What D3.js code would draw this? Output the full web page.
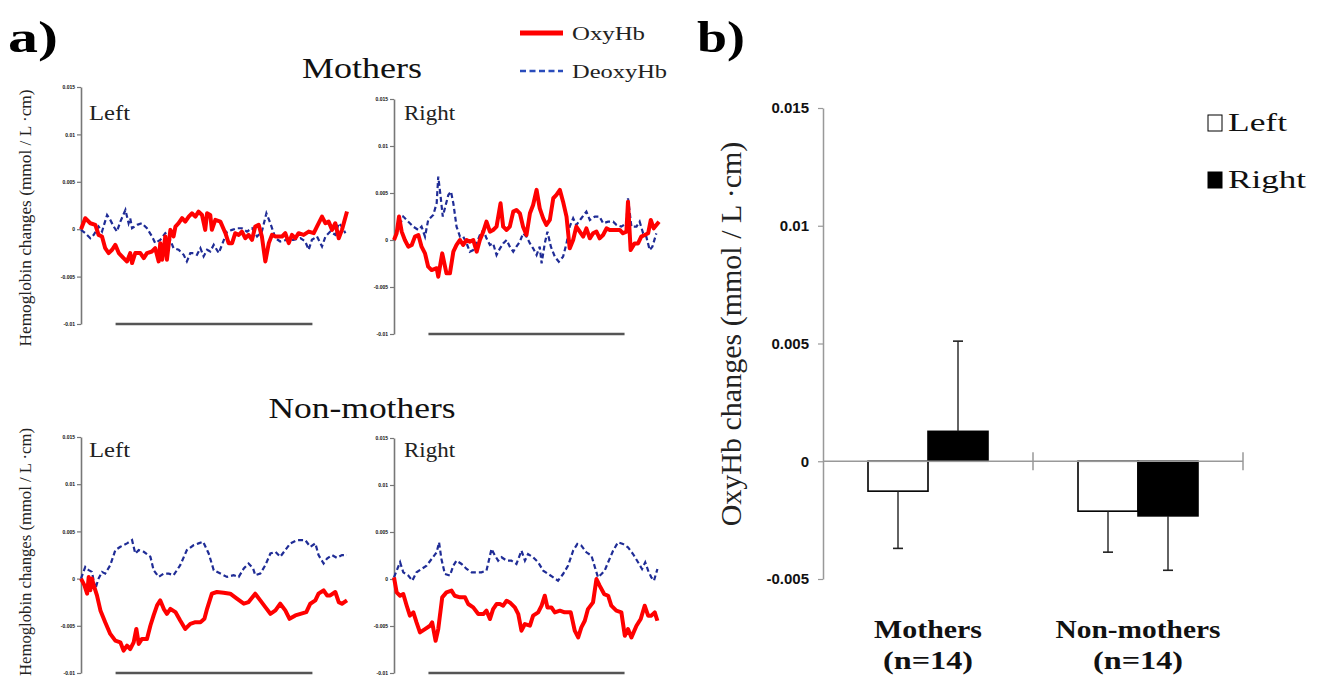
<!DOCTYPE html>
<html><head><meta charset="utf-8">
<script src="https://cdnjs.cloudflare.com/ajax/libs/d3/7.8.5/d3.min.js"></script>
<style>
html,body{margin:0;padding:0;background:#fff;}
svg{display:block;}
</style></head>
<body>
<script>
// ---------------- DATA ----------------
// Panel a: time (% of trace) and hemoglobin change in 0.001 mmol / L·cm
const oxyMothersLeft = [[0,0],[1.6,1.16],[3.5,0.63],[5.4,0.46],[6.6,-0.6],[7.9,-0.77],[9.1,-2.0],[10.4,-2.52],[11.7,-2.17],[12.9,-1.65],[14.2,-2.52],[16.0,-3.05],[17.3,-3.4],[18.5,-2.52],[19.2,-3.57],[20.4,-2.52],[22.3,-2.52],[23.6,-3.05],[24.8,-2.52],[26.7,-2.35],[27.9,-2.0],[29.2,-3.4],[29.8,-1.47],[30.5,-3.22],[31.7,-0.77],[32.3,-3.22],[33.6,-0.07],[34.8,-0.77],[35.5,0.28],[36.7,0.63],[38.0,1.16],[39.2,0.8],[40.5,1.33],[41.7,1.68],[43.0,1.33],[44.2,1.86],[45.5,1.5],[46.7,-0.07],[47.4,1.68],[48.6,1.5],[49.2,-0.07],[50.5,0.98],[52.4,0.8],[54.3,-0.42],[55.5,-1.47],[56.8,-1.47],[58.0,-0.42],[59.3,-0.6],[60.5,-0.25],[61.8,-0.95],[63.0,-0.6],[64.3,-1.12],[65.5,0.28],[66.8,0.46],[68.0,-0.77],[69.3,-3.4],[70.6,-1.47],[71.8,-0.6],[73.1,-0.77],[74.3,-0.77],[75.6,-0.77],[76.8,-0.42],[78.1,-1.47],[79.3,-0.6],[80.6,-0.95],[81.8,-0.42],[83.7,-0.6],[85.6,-0.25],[87.5,-0.42],[88.7,0.28],[90.6,1.33],[91.9,0.63],[93.1,0.8],[94.4,-0.07],[95.6,0.63],[96.9,-0.95],[98.1,-0.07],[100,1.86]];
const deoxyMothersLeft = [[0,-0.07],[1.6,-0.42],[3.5,-0.95],[4.8,-0.6],[6.6,0.28],[7.9,-0.25],[9.8,1.5],[11.0,0.98],[12.3,0.28],[13.5,-0.25],[14.8,0.8],[16.7,2.03],[17.9,0.63],[18.5,1.16],[19.2,0.1],[21.1,0.46],[22.9,0.63],[24.8,0.1],[26.7,-0.77],[27.9,-1.47],[29.8,-1.12],[31.7,-0.42],[33.0,-0.77],[34.8,-2.0],[36.7,-2.17],[38.6,-2.7],[39.8,-3.4],[41.1,-2.52],[42.4,-2.52],[43.6,-2.7],[44.9,-2.0],[46.1,-2.87],[47.4,-2.17],[48.6,-2.35],[49.9,-1.65],[51.8,-2.52],[53.0,-1.65],[54.9,-0.25],[56.8,-0.07],[58.6,0.1],[60.5,0.1],[62.4,-0.25],[64.3,0.1],[66.2,-0.77],[68.0,-0.25],[69.7,1.68],[71.2,0.63],[73.1,-0.95],[74.9,-1.3],[77.4,-1.12],[79.9,-1.12],[82.5,-0.95],[84.3,-1.3],[85.6,-2.17],[86.8,-1.12],[88.7,-0.77],[90.6,-1.82],[91.9,-0.77],[93.7,-0.25],[95.6,-0.6],[96.9,0.63],[98.1,0.28],[99.4,-0.42]];
const oxyMothersRight = [[0,0],[1.0,0.71],[1.9,2.49],[2.9,0.89],[4.1,0],[5.4,-0.71],[6.7,-0.53],[7.9,0.36],[9.2,0.53],[10.4,-0.71],[11.7,-1.42],[12.9,-2.84],[14.2,-3.2],[16.1,-3.0],[16.7,-3.9],[18.2,-1.42],[19.8,-3.55],[21.1,-3.55],[22.4,-1.24],[23.6,-0.53],[24.9,0],[26.1,-0.53],[27.4,0],[28.6,-0.18],[29.9,0],[31.2,-1.24],[32.4,0],[33.7,0.89],[34.9,1.95],[36.2,0.89],[37.4,1.07],[38.7,1.42],[40.2,3.9],[41.2,1.42],[42.5,1.07],[43.7,1.42],[45.0,3.02],[46.2,3.2],[47.5,2.84],[48.7,1.42],[50.0,0.53],[51.3,2.84],[52.5,3.73],[53.8,5.33],[55.0,3.37],[56.3,2.31],[57.5,1.6],[58.8,2.13],[60.1,4.44],[61.3,4.79],[62.6,5.33],[63.8,4.08],[65.1,2.49],[66.3,-0.89],[67.6,0],[68.8,1.42],[70.1,0.89],[71.4,0.36],[72.6,1.24],[73.9,0.18],[75.1,0.71],[76.4,0.89],[77.6,0.18],[78.9,0.53],[80.2,1.24],[81.4,1.07],[83.3,1.07],[85.2,1.07],[86.4,0.71],[87.7,0.89],[88.3,4.08],[89.3,-1.07],[90.8,-0.36],[92.1,-0.36],[93.3,0.36],[94.6,0.53],[95.9,0.71],[96.9,2.13],[98.0,1.24],[99.0,1.6],[100,1.95]];
const deoxyMothersRight = [[0,0],[1.6,1.24],[3.5,2.49],[5.4,1.95],[7.3,1.42],[9.2,1.07],[10.4,1.42],[11.7,0.36],[12.9,2.13],[14.8,2.66],[16.1,3.9],[16.7,6.75],[17.6,4.62],[18.4,2.49],[19.2,3.37],[20.5,4.79],[21.5,5.15],[22.4,3.9],[23.6,1.42],[24.9,0.36],[26.1,0.36],[27.4,-0.36],[28.6,-1.24],[29.9,-1.07],[31.2,-0.36],[32.4,0.53],[33.7,1.07],[34.9,0.18],[36.2,-0.53],[37.4,-0.36],[38.7,-1.6],[40.0,-0.89],[41.2,-0.36],[42.5,0],[43.7,-0.71],[45.0,-1.24],[46.2,-0.71],[47.5,-0.18],[48.7,0.71],[50.0,0.36],[51.3,-0.36],[52.5,-0.89],[53.8,-1.6],[55.0,-0.71],[55.7,-2.49],[56.9,-0.36],[57.9,0.89],[59.2,-0.71],[60.7,-1.78],[62.2,-2.31],[63.8,-1.78],[65.1,-0.36],[66.3,1.42],[67.6,2.31],[68.8,1.6],[70.7,2.31],[72.6,3.02],[73.9,2.13],[75.8,2.49],[77.6,2.49],[78.9,1.78],[80.8,1.95],[82.7,1.95],[84.0,1.6],[85.8,1.42],[87.7,1.78],[88.3,4.44],[89.6,1.42],[91.5,1.42],[92.7,1.95],[94.0,0.71],[95.2,0.36],[96.5,-1.07],[97.5,-0.71],[99.0,0.71]];
const oxyNonMothersLeft = [[0,0],[1.3,-0.71],[2.3,-1.6],[2.9,0.18],[3.5,-1.24],[4.1,0],[4.8,-0.71],[6.0,-1.78],[7.3,-3.37],[9.1,-4.62],[11.0,-5.86],[12.9,-6.57],[14.8,-6.75],[16.0,-7.63],[17.3,-7.1],[18.5,-7.46],[19.8,-6.75],[20.8,-5.33],[21.7,-6.92],[22.9,-6.39],[24.8,-6.39],[26.1,-4.97],[27.3,-3.9],[28.6,-2.84],[29.8,-2.31],[31.1,-3.2],[32.3,-3.73],[33.6,-3.2],[35.5,-3.55],[37.3,-4.44],[39.2,-5.33],[41.1,-4.79],[43.0,-4.62],[44.9,-4.62],[46.4,-4.26],[47.4,-3.2],[49.2,-1.6],[51.1,-1.42],[53.6,-1.49],[56.1,-1.6],[58.6,-2.13],[61.2,-2.66],[63.0,-2.49],[65.5,-1.6],[67.4,-2.31],[69.3,-3.02],[71.2,-3.73],[73.1,-3.37],[74.9,-2.66],[76.8,-3.37],[78.4,-4.26],[80.6,-3.9],[82.5,-3.73],[84.7,-3.55],[86.2,-2.66],[88.1,-2.31],[89.3,-1.6],[91.2,-1.24],[92.5,-1.78],[93.7,-1.78],[95.6,-1.42],[96.9,-2.49],[98.1,-2.66],[100,-2.31]];
const deoxyNonMothersLeft = [[0,0],[1.6,1.24],[2.9,0.89],[4.1,0.71],[5.4,-1.07],[6.6,0],[7.9,0.71],[9.1,0.53],[11.0,1.42],[12.9,3.02],[14.8,3.37],[17.3,3.73],[19.2,4.08],[20.4,2.66],[21.7,3.02],[23.6,2.84],[26.1,2.31],[27.3,0.89],[29.2,0.18],[31.1,0.53],[33.0,0.53],[34.8,0.36],[37.3,1.42],[39.8,3.02],[42.4,3.55],[44.2,3.73],[45.9,3.9],[48.0,2.66],[49.9,0.89],[52.4,0.53],[54.9,0.18],[57.4,0.36],[59.3,0.18],[61.2,1.07],[63.0,1.6],[64.7,1.07],[65.5,0.36],[67.4,0.53],[69.3,1.42],[71.2,2.66],[73.1,2.84],[74.9,2.31],[76.8,3.02],[78.7,3.73],[81.2,4.08],[84.3,4.08],[86.2,3.37],[88.1,3.73],[89.3,2.49],[91.2,1.6],[92.5,2.13],[94.4,2.49],[96.2,2.2],[98.1,2.49],[100,2.49]];
const oxyNonMothersRight = [[0,0.18],[1.0,-1.42],[2.3,-1.78],[3.5,-1.6],[4.8,-2.84],[6.0,-3.9],[7.3,-3.55],[8.5,-4.62],[9.8,-5.68],[11.7,-5.33],[13.6,-4.97],[14.4,-4.62],[15.7,-6.57],[16.7,-5.33],[18.2,-1.95],[19.8,-1.42],[21.7,-1.24],[22.9,-1.78],[24.9,-1.95],[26.8,-1.95],[28.0,-2.66],[29.9,-3.02],[31.8,-3.73],[33.7,-3.73],[34.9,-3.37],[36.2,-4.26],[37.4,-3.2],[38.7,-2.66],[40.0,-2.66],[41.2,-2.84],[42.5,-2.31],[43.7,-2.49],[45.6,-3.02],[46.9,-3.73],[48.1,-5.5],[49.4,-4.79],[51.3,-4.97],[52.5,-3.9],[54.4,-3.55],[55.7,-2.84],[56.9,-1.78],[57.9,-3.02],[59.4,-3.02],[60.7,-3.55],[62.6,-3.37],[64.4,-3.55],[66.7,-3.55],[68.2,-5.5],[69.5,-6.21],[70.7,-5.15],[72.0,-4.44],[73.2,-3.2],[75.1,-2.49],[76.4,0],[77.6,-0.71],[79.3,-1.6],[80.8,-1.78],[82.0,-2.84],[83.9,-3.37],[85.8,-3.55],[87.1,-6.04],[88.3,-5.33],[89.6,-6.21],[91.5,-4.97],[93.1,-4.26],[94.6,-2.84],[95.9,-3.9],[97.1,-3.9],[98.4,-3.55],[99.4,-4.44]];
const deoxyNonMothersRight = [[0,0.18],[1.0,0.89],[2.3,1.78],[3.5,0.71],[5.4,0.36],[6.9,-0.18],[8.5,0.71],[10.4,1.07],[12.3,1.42],[14.2,2.13],[16.1,2.84],[17.0,3.9],[17.9,2.13],[19.2,0.53],[21.1,0.36],[22.4,1.42],[23.6,1.95],[25.5,1.6],[27.4,1.07],[29.3,0.71],[31.2,0.71],[33.0,0.71],[34.9,0.89],[36.8,3.2],[38.1,2.49],[39.3,1.95],[40.6,2.31],[42.5,1.95],[44.3,1.95],[46.2,1.6],[48.1,3.02],[49.4,1.95],[50.6,2.66],[52.5,2.31],[54.4,1.78],[56.3,0.89],[58.2,0.53],[60.1,0.18],[61.9,-0.18],[63.8,0.53],[65.7,1.42],[67.6,3.02],[69.2,3.73],[70.7,3.55],[72.6,2.84],[74.5,2.49],[76.0,1.07],[77.0,0.18],[78.3,0.53],[79.5,0.89],[80.8,1.78],[82.7,3.02],[84.5,3.9],[86.4,3.73],[88.3,3.37],[90.2,2.66],[92.1,1.78],[93.6,1.07],[94.8,1.78],[95.9,0.89],[97.1,0.18],[98.1,-0.18],[99.4,1.07]];
const stimulusWindow = [13, 87];
const subTickValues = [15, 10, 5, 0, -5, -10];
const subTickLabels = ["0.015", "0.01", "0.005", "0", "-0.005", "-0.01"];
const seriesNames = ["OxyHb", "DeoxyHb"];
const groupTitles = ["Mothers", "Non-mothers"];
const sideNames = ["Left", "Right"];

// Panel b
const barGroups = ["Mothers", "Non-mothers"];
const groupSizes = ["(n=14)", "(n=14)"];
const meanLeft = [-0.00127, -0.00212];
const meanRight = [0.00127, -0.00232];
const sdLeft = [0.00243, 0.00174];
const sdRight = [0.00383, 0.00231];
const barTickValues = [0.015, 0.01, 0.005, 0, -0.005];
const barTickLabels = ["0.015", "0.01", "0.005", "0", "-0.005"];

// ---------------- DRAW ----------------
const W = 1322, H = 681;
const svg = d3.select("body").append("svg").attr("width", W).attr("height", H);
const serif = "'Liberation Serif','Times New Roman',serif";
const sans = "'Liberation Sans',Arial,sans-serif";

// panel letters
svg.append("text").attr("x", 8).attr("y", 52).text("a)")
  .attr("font-family", serif).attr("font-weight", "bold").attr("font-size", 44)
  .attr("textLength", 50).attr("lengthAdjust", "spacingAndGlyphs");
svg.append("text").attr("x", 697).attr("y", 52).text("b)")
  .attr("font-family", serif).attr("font-weight", "bold").attr("font-size", 44)
  .attr("textLength", 48).attr("lengthAdjust", "spacingAndGlyphs");

// legend a
const legA = svg.append("g");
const legItems = [
  {name: seriesNames[0], y: 33, color: "#ff0000", w: 5, dash: null, ty: 40, len: 73},
  {name: seriesNames[1], y: 71, color: "#2a4cbc", w: 2.5, dash: "6,3.5", ty: 78, len: 95}
];
legItems.forEach(it => {
  legA.append("line").attr("x1", 520).attr("x2", 563).attr("y1", it.y).attr("y2", it.y)
    .attr("stroke", it.color).attr("stroke-width", it.w).attr("stroke-dasharray", it.dash);
  legA.append("text").attr("x", 572).attr("y", it.ty).text(it.name)
    .attr("font-family", serif).attr("font-size", 18).attr("fill", "#222")
    .attr("textLength", it.len).attr("lengthAdjust", "spacingAndGlyphs");
});

// group titles
[[groupTitles[0], 78, 120], [groupTitles[1], 418, 187]].forEach(([t, y, len]) => {
  svg.append("text").attr("x", 362).attr("y", y).attr("text-anchor", "middle").text(t)
    .attr("font-family", serif).attr("font-size", 30).attr("fill", "#111")
    .attr("textLength", len).attr("lengthAdjust", "spacingAndGlyphs");
});

// y labels panel a
[[218, 257], [552, 248]].forEach(([cy, len]) => {
  svg.append("text").attr("transform", `translate(31,${cy}) rotate(-90)`)
    .attr("text-anchor", "middle").text("Hemoglobin changes (mmol / L ·cm)")
    .attr("font-family", serif).attr("font-size", 16).attr("fill", "#222")
    .attr("textLength", len).attr("lengthAdjust", "spacingAndGlyphs");
});

const panels = [
  {x0: 81, x1: 347, yTop: 87, yBot: 324, side: 0, labelY: 120, oxy: oxyMothersLeft, deoxy: deoxyMothersLeft},
  {x0: 394, x1: 659, yTop: 99, yBot: 334, side: 1, labelY: 120, oxy: oxyMothersRight, deoxy: deoxyMothersRight},
  {x0: 81, x1: 347, yTop: 437, yBot: 673, side: 0, labelY: 457, oxy: oxyNonMothersLeft, deoxy: deoxyNonMothersLeft},
  {x0: 394, x1: 659, yTop: 438, yBot: 673, side: 1, labelY: 457, oxy: oxyNonMothersRight, deoxy: deoxyNonMothersRight}
];

panels.forEach(p => {
  const g = svg.append("g");
  const x = d3.scaleLinear().domain([0, 100]).range([p.x0, p.x1]);
  const y = d3.scaleLinear().domain([-10, 15]).range([p.yBot, p.yTop]);
  const ax = g.append("g").attr("transform", `translate(${p.x0},0)`)
    .call(d3.axisLeft(y).tickValues(subTickValues)
      .tickFormat((d, i) => subTickLabels[i]).tickSize(4).tickSizeOuter(0));
  ax.select(".domain").attr("stroke", "#777").attr("stroke-width", 1.6);
  ax.selectAll(".tick line").attr("stroke", "#777").attr("stroke-width", 1.2);
  ax.selectAll(".tick text").attr("font-family", sans).attr("font-weight", "bold")
    .attr("font-size", 5).attr("fill", "#111").attr("x", -6);
  // stimulus bar
  g.append("line").attr("x1", x(stimulusWindow[0])).attr("x2", x(stimulusWindow[1]))
    .attr("y1", y(-10)).attr("y2", y(-10)).attr("stroke", "#555").attr("stroke-width", 2.4);
  const line = d3.line().x(d => x(d[0])).y(d => y(d[1]));
  g.append("path").datum(p.deoxy).attr("d", line).attr("fill", "none")
    .attr("stroke", "#1f2c96").attr("stroke-width", 2.2).attr("stroke-dasharray", "5,3");
  g.append("path").datum(p.oxy).attr("d", line).attr("fill", "none")
    .attr("stroke", "#ff0000").attr("stroke-width", 4).attr("stroke-linejoin", "round");
  g.append("text").attr("x", p.x0 + (p.side ? 10 : 8)).attr("y", p.labelY).text(sideNames[p.side])
    .attr("font-family", serif).attr("font-size", 20).attr("fill", "#222")
    .attr("textLength", p.side ? 51 : 41).attr("lengthAdjust", "spacingAndGlyphs");
});

// ---------------- Panel b ----------------
const bx0 = d3.scaleBand().domain(barGroups).range([823, 1243]).paddingInner(0).paddingOuter(0);
const bx1 = d3.scaleBand().domain(sideNames).range([0, bx0.bandwidth()]).paddingInner(0).paddingOuter(0.75);
const by = d3.scaleLinear().domain([-0.005, 0.015]).range([579, 108]);
const gb = svg.append("g");

const yax = gb.append("g").attr("transform", "translate(823,0)")
  .call(d3.axisLeft(by).tickValues(barTickValues).tickFormat((d, i) => barTickLabels[i]).tickSize(5).tickSizeOuter(0));
yax.select(".domain").attr("stroke", "#999").attr("stroke-width", 1.5);
yax.selectAll(".tick line").attr("stroke", "#999").attr("stroke-width", 1.2);
yax.selectAll(".tick text").attr("font-family", sans).attr("font-weight", "bold")
  .attr("font-size", 15).attr("fill", "#111").attr("x", -14);

// y label b
gb.append("text").attr("transform", `translate(741,334) rotate(-90)`).attr("text-anchor", "middle")
  .text("OxyHb changes (mmol / L ·cm)").attr("font-family", serif).attr("font-size", 30).attr("fill", "#222");

// bars data
const barData = [];
barGroups.forEach((grp, i) => {
  barData.push({grp, side: sideNames[0], v: meanLeft[i], sd: sdLeft[i]});
  barData.push({grp, side: sideNames[1], v: meanRight[i], sd: sdRight[i]});
});
gb.selectAll("rect.bar").data(barData).join("rect").attr("class", "bar")
  .attr("x", d => bx0(d.grp) + bx1(d.side)).attr("width", bx1.bandwidth())
  .attr("y", d => by(Math.max(0, d.v))).attr("height", d => Math.abs(by(d.v) - by(0)))
  .attr("fill", d => d.side === sideNames[0] ? "#fff" : "#000")
  .attr("stroke", "#000").attr("stroke-width", 1.6);

// zero axis
const zeroY = by(0);
gb.append("line").attr("x1", 823).attr("x2", 1243).attr("y1", zeroY).attr("y2", zeroY)
  .attr("stroke", "#999").attr("stroke-width", 1.5);
bx0.domain().forEach(gname => {
  const xe = bx0(gname) + bx0.bandwidth();
  gb.append("line").attr("x1", xe).attr("x2", xe).attr("y1", zeroY - 9).attr("y2", zeroY + 9)
    .attr("stroke", "#999").attr("stroke-width", 1.5);
});

// error bars
barData.forEach(d => {
  const cx = bx0(d.grp) + bx1(d.side) + bx1.bandwidth() / 2;
  const end = d.v >= 0 ? d.v + d.sd : d.v - d.sd;
  gb.append("line").attr("x1", cx).attr("x2", cx).attr("y1", by(d.v)).attr("y2", by(end))
    .attr("stroke", "#222").attr("stroke-width", 1.4);
  gb.append("line").attr("x1", cx - 5).attr("x2", cx + 5).attr("y1", by(end)).attr("y2", by(end))
    .attr("stroke", "#222").attr("stroke-width", 1.6);
});

// category labels
barGroups.forEach((gname, i) => {
  const cx = bx0(gname) + bx0.bandwidth() / 2;
  gb.append("text").attr("x", cx).attr("y", 638).attr("text-anchor", "middle").text(gname)
    .attr("font-family", serif).attr("font-weight", "bold").attr("font-size", 26).attr("fill", "#111")
    .attr("textLength", i === 0 ? 108 : 165).attr("lengthAdjust", "spacingAndGlyphs");
  gb.append("text").attr("x", cx).attr("y", 669).attr("text-anchor", "middle").text(groupSizes[i])
    .attr("font-family", serif).attr("font-weight", "bold").attr("font-size", 26).attr("fill", "#111")
    .attr("textLength", 90).attr("lengthAdjust", "spacingAndGlyphs");
});

// legend b
const legB = [{name: sideNames[0], fill: "#fff", y: 115}, {name: sideNames[1], fill: "#000", y: 172}];
legB.forEach(it => {
  gb.append("rect").attr("x", 1208).attr("y", it.y).attr("width", 14).attr("height", 16)
    .attr("fill", it.fill).attr("stroke", "#000").attr("stroke-width", 1);
  gb.append("text").attr("x", 1228).attr("y", it.y + 16).text(it.name)
    .attr("font-family", serif).attr("font-size", 26).attr("fill", "#111")
    .attr("textLength", it.name === "Left" ? 59 : 78).attr("lengthAdjust", "spacingAndGlyphs");
});
</script>
</body></html>
